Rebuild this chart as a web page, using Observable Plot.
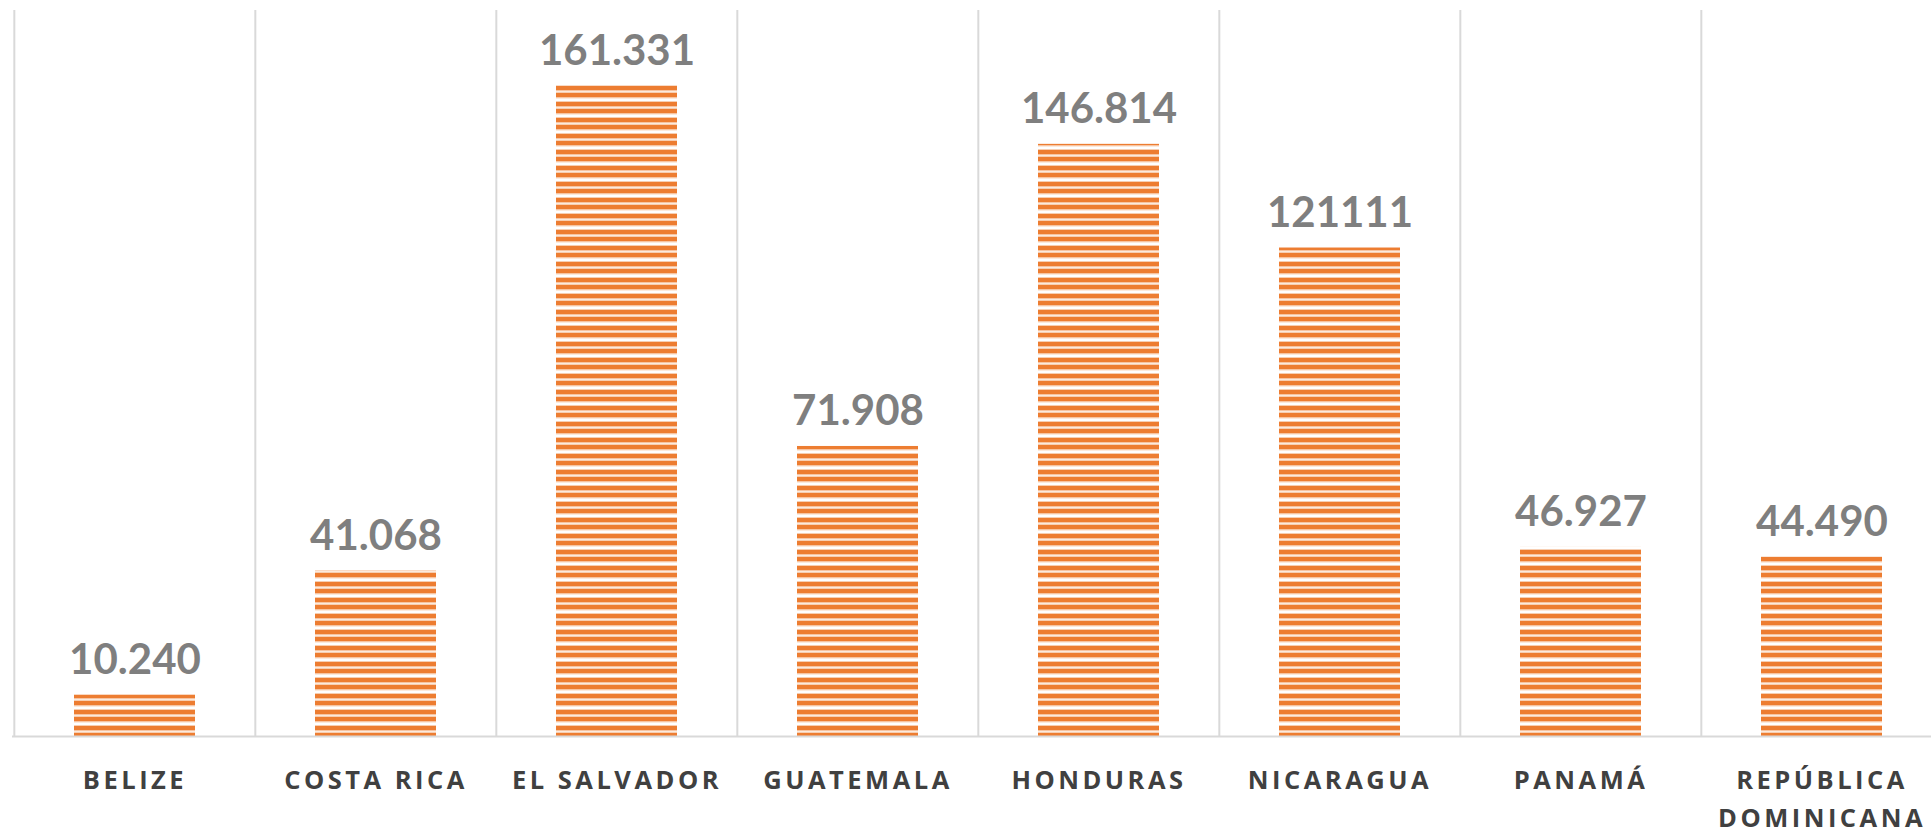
<!DOCTYPE html>
<html>
<head>
<meta charset="utf-8">
<script src="https://cdn.jsdelivr.net/npm/d3@7"></script>
<script src="https://cdn.jsdelivr.net/npm/@observablehq/plot@0.6"></script>
<style>
  html, body { margin: 0; padding: 0; background: #ffffff; overflow: hidden; }
  #chart svg { display: block; overflow: visible; }
  g[aria-label="x-axis tick label"] text { letter-spacing: 3.5px; font-weight: bold; }
</style>
</head>
<body>
<div id="chart"></div>
<script>
// ---- data ----
const categories = ["BELIZE", "COSTA RICA", "EL SALVADOR", "GUATEMALA", "HONDURAS", "NICARAGUA", "PANAMÁ", "REPÚBLICA DOMINICANA"];
const tickLabels = ["BELIZE", "COSTA RICA", "EL SALVADOR", "GUATEMALA", "HONDURAS", "NICARAGUA", "PANAMÁ", "REPÚBLICA\nDOMINICANA"];
const values = [10.240, 41.068, 161.331, 71.908, 146.814, 121.111, 46.927, 44.490];
const valueLabels = ["10.240", "41.068", "161.331", "71.908", "146.814", "121111", "46.927", "44.490"];

const data = categories.map((c, i) => ({country: c, value: values[i], label: valueLabels[i]}));

// ---- layout ----
const W = 1931, H = 829;
const xRange = [12, 1943];
const step = (xRange[1] - xRange[0]) / categories.length;

const chart = Plot.plot({
  width: W,
  height: H,
  marginTop: 10,
  marginBottom: 93,
  marginLeft: 12,
  marginRight: 0,
  x: {domain: categories, range: xRange, paddingInner: 0.5, paddingOuter: 0.25, align: 0.5, axis: null, label: null},
  y: {domain: [0, 180], axis: null, label: null},
  marks: [
    Plot.ruleX(categories, {x: d => d, y1: 0, y2: 180, dx: -step / 2, stroke: "#d9d9d9", strokeWidth: 2}),
    Plot.barY(data, {x: "country", y: "value", fill: "url(#stripes)"}),
    Plot.ruleY([0], {stroke: "#d9d9d9", strokeWidth: 2}),
    Plot.text(data, {
      x: "country", y: "value", text: "label",
      dy: -21, lineAnchor: "bottom",
      fill: "#7f7f7f", fontSize: 42, fontWeight: "bold", fontFamily: "Lato"
    }),
    Plot.axisX({
      label: null,
      tickSize: 0, tickPadding: 25,
      tickFormat: d => tickLabels[categories.indexOf(d)],
      fontSize: 25.5, fontWeight: "bold", fontFamily: "Open Sans",
      lineHeight: 1.5, fill: "#404040"
    })
  ]
});

// striped fill pattern (user space, so stripes line up across bars)
const svg = d3.select(chart);
const pat = svg.insert("defs", ":first-child")
  .append("pattern")
  .attr("id", "stripes")
  .attr("patternUnits", "userSpaceOnUse")
  .attr("x", 0).attr("y", 6)
  .attr("width", 16).attr("height", 16);
const stripe = [
  {y: 0, h: 4.5, c: "#ed7d31"},
  {y: 4.5, h: 0.9, c: "#f7c9a8"},
  {y: 15.1, h: 0.9, c: "#f7c9a8"},
  {y: 6.1, h: 0.9, c: "#f7c9a8"},
  {y: 7, h: 4.5, c: "#ed7d31"},
  {y: 11.5, h: 0.9, c: "#f7c9a8"}
];
pat.selectAll("rect").data(stripe).join("rect")
  .attr("x", 0).attr("width", 16)
  .attr("y", d => d.y).attr("height", d => d.h)
  .attr("fill", d => d.c);

document.getElementById("chart").appendChild(chart);
</script>
</body>
</html>
